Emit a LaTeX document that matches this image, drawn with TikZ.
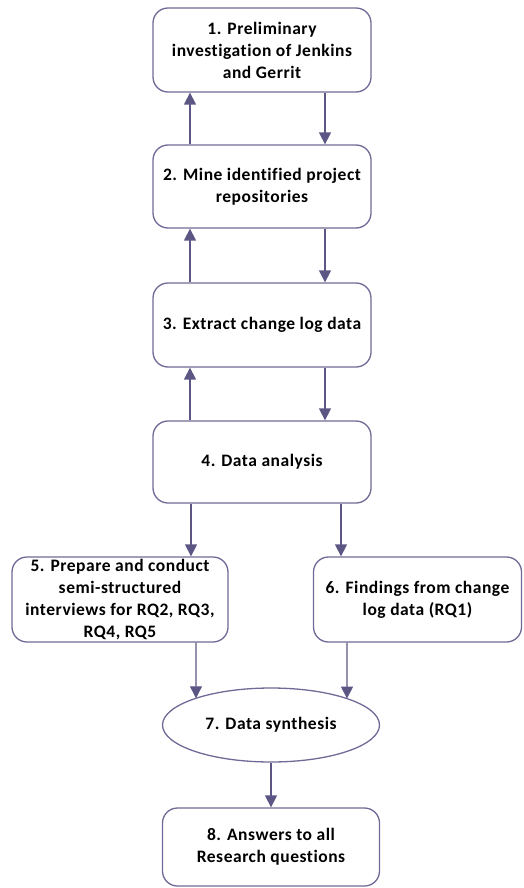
\documentclass[tikz,border=0pt]{standalone}
\usepackage{fontspec}
\setmainfont[Ligatures={NoCommon},LetterSpace=3]{Carlito}
\usetikzlibrary{arrows.meta,shapes.geometric,intersections}

\definecolor{edgecol}{RGB}{112,106,150}
\definecolor{arrowcol}{RGB}{92,86,132}

\tikzset{
  stepbox/.style={draw=edgecol, line width=1.3pt, rounded corners=15pt, fill=white,
    align=center, font=\fontsize{17.5}{22}\selectfont\bfseries, inner sep=2pt},
  synth/.style={draw=edgecol, line width=1.3pt, ellipse, fill=white, inner sep=0pt,
    align=center, font=\fontsize{17.5}{22}\selectfont\bfseries},
  arr/.style={draw=arrowcol, line width=1.4pt,
    -{Triangle[length=12pt,width=12pt]}, color=arrowcol}
}

\begin{document}
\begin{tikzpicture}[x=1pt,y=-1pt]
\useasboundingbox (0,0) rectangle (523,888);

% process steps
\node[stepbox, minimum width=218pt, minimum height=84pt] (b1) at (262,50)
  {1. Preliminary\\investigation of Jenkins\\and Gerrit};
\node[stepbox, minimum width=218pt, minimum height=83pt] (b2) at (262,186.5)
  {2. Mine identified project\\repositories};
\node[stepbox, minimum width=218pt, minimum height=84pt] (b3) at (262,325)
  {3. Extract change log data};
\node[stepbox, minimum width=218pt, minimum height=82pt] (b4) at (262,462)
  {4. Data analysis};
\node[stepbox, minimum width=216pt, minimum height=85pt] (b5) at (120,599.5)
  {5. Prepare and conduct\\semi-structured\\interviews for RQ2, RQ3,\\RQ4, RQ5};
\node[stepbox, minimum width=208pt, minimum height=85pt] (b6) at (417.5,599.5)
  {6. Findings from change\\log data (RQ1)};
\node[synth, minimum width=217pt, minimum height=74pt, name path=ell] (e7) at (271,725)
  {7. Data synthesis};
\node[stepbox, minimum width=217pt, minimum height=78pt] (b8) at (271,847)
  {8. Answers to all\\Research questions};

% vertical lanes for the connectors
\coordinate (up) at (190,0);
\coordinate (dn) at (325,0);
\coordinate (lft) at (191,0);
\coordinate (rgt) at (341,0);
\coordinate (l5) at (196,0);
\coordinate (r6) at (347,0);

% feedback loops between the first four steps
\draw[arr] (b2.north -| up) -- (b1.south -| up);
\draw[arr] (b1.south -| dn) -- (b2.north -| dn);
\draw[arr] (b3.north -| up) -- (b2.south -| up);
\draw[arr] (b2.south -| dn) -- (b3.north -| dn);
\draw[arr] (b4.north -| up) -- (b3.south -| up);
\draw[arr] (b3.south -| dn) -- (b4.north -| dn);

% branching after the analysis
\draw[arr] (b4.south -| lft) -- (b5.north -| lft);
\draw[arr] (b4.south -| rgt) -- (b6.north -| rgt);

% where the merging lanes meet the synthesis ellipse
\path[name path=lane5] (b5.south -| l5) -- (e7.center -| l5);
\path[name path=lane6] (b6.south -| r6) -- (e7.center -| r6);
\path[name intersections={of=lane5 and ell, by=m5}];
\path[name intersections={of=lane6 and ell, by=m6}];

% merging into the synthesis
\draw[arr] (b5.south -| l5) -- (m5);
\draw[arr] (b6.south -| r6) -- (m6);
\draw[arr] (e7.south) -- (b8.north);
\end{tikzpicture}
\end{document}
